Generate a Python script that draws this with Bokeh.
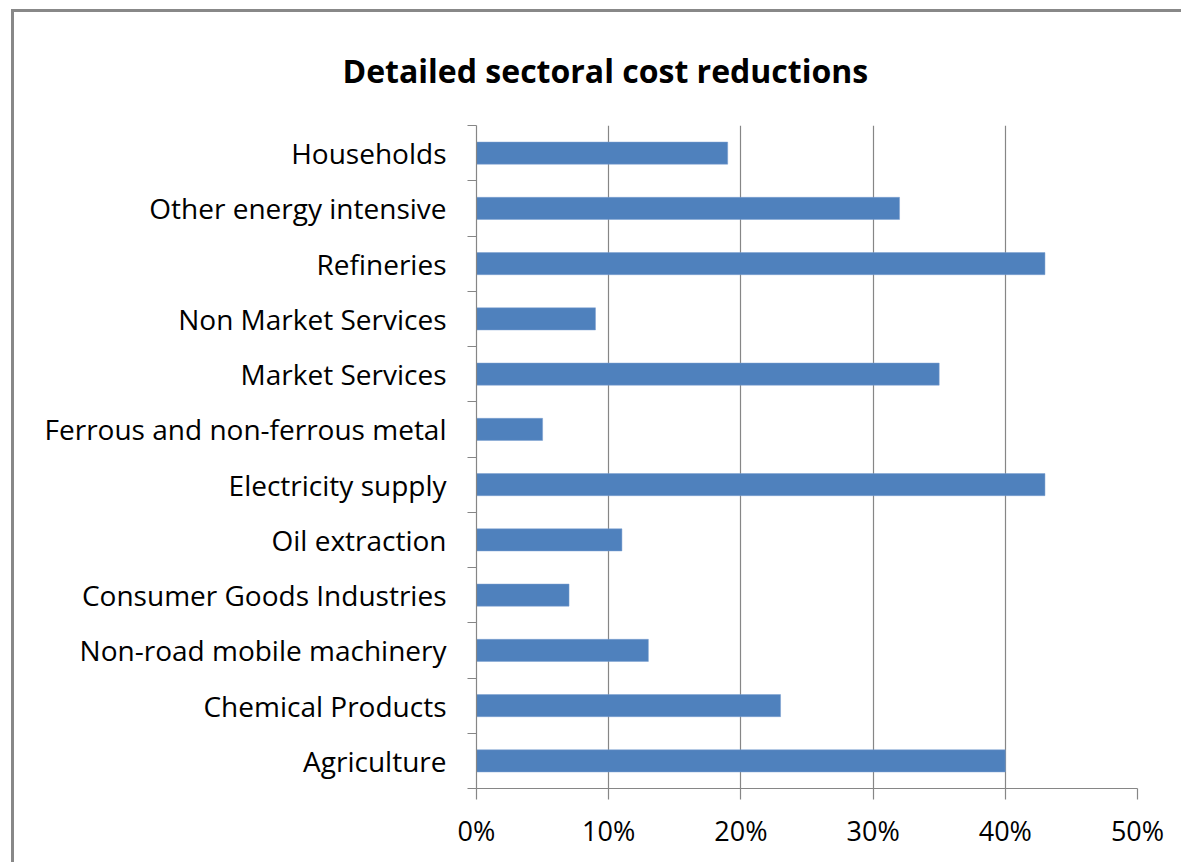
from bokeh.plotting import figure
from bokeh.models import ColumnDataSource, FixedTicker, NumeralTickFormatter, Range1d
from bokeh.embed import file_html
from bokeh.resources import INLINE

categories = ["Agriculture", "Chemical Products", "Non-road mobile machinery",
              "Consumer Goods Industries", "Oil extraction", "Electricity supply",
              "Ferrous and non-ferrous metal", "Market Services", "Non Market Services",
              "Refineries", "Other energy intensive", "Households"]
reductions = [0.40, 0.23, 0.13, 0.07, 0.11, 0.43, 0.05, 0.35, 0.09, 0.43, 0.32, 0.19]
x_ticks = [0.0, 0.1, 0.2, 0.3, 0.4, 0.5]
title_text = "Detailed sectoral cost reductions"

n = len(categories)
ypos = [i + 0.5 for i in range(n)]
src = ColumnDataSource(dict(y=ypos, right=reductions, name=categories))

FONT = "Open Sans"
GRAY = "#868686"
OX, OY = 14, 12  # outer border offset (margin + border width)

p = figure(width=1184 - OX, height=865 - OY, output_backend="svg", toolbar_location=None,
           x_range=Range1d(0, 0.5), y_range=Range1d(0, n),
           min_border_left=476 - OX, min_border_right=47, min_border_top=125 - OY,
           min_border_bottom=77)
p.styles = {"margin-left": "11px", "margin-top": "9px",
            "border-left": "3px solid #888888", "border-top": "3px solid #888888"}
p.hbar(y="y", right="right", left=0, height=0.4, source=src,
       fill_color="#4F81BD", line_color="#7A9FD0", line_width=0.5)

p.title.text = title_text
p.title.align = "left"
p.title.offset = -134
p.title.text_font = FONT
p.title.text_font_style = "bold"
p.title.text_font_size = "32px"
p.title.text_color = "#000000"
p.title.standoff = 68

p.outline_line_color = None
p.background_fill_color = "white"
p.border_fill_color = "white"

p.ygrid.grid_line_color = None
p.xgrid.grid_line_color = GRAY
p.xgrid.grid_line_width = 1.2
p.xgrid.ticker = FixedTicker(ticks=x_ticks)

xa = p.xaxis[0]
xa.ticker = FixedTicker(ticks=x_ticks)
xa.formatter = NumeralTickFormatter(format="0%")
xa.axis_line_color = GRAY
xa.axis_line_width = 1.2
xa.major_tick_line_color = GRAY
xa.major_tick_line_width = 1.2
xa.major_tick_out = 11
xa.major_tick_in = 0
xa.minor_tick_line_color = None
xa.major_label_text_font = FONT
xa.major_label_text_font_size = "27px"
xa.major_label_text_color = "#000000"
xa.major_label_standoff = 12

ya = p.yaxis[0]
ya.ticker = FixedTicker(ticks=ypos, minor_ticks=list(range(n + 1)))
ya.major_label_overrides = {y: c for y, c in zip(ypos, categories)}
ya.axis_line_color = GRAY
ya.axis_line_width = 1.2
ya.major_tick_line_color = None
ya.minor_tick_line_color = GRAY
ya.minor_tick_line_width = 1.2
ya.minor_tick_out = 9
ya.minor_tick_in = 0
ya.major_label_text_font = FONT
ya.major_label_text_font_size = "28px"
ya.major_label_text_color = "#000000"
ya.major_label_standoff = 21

open("out.html", "w").write(file_html(p, INLINE))
